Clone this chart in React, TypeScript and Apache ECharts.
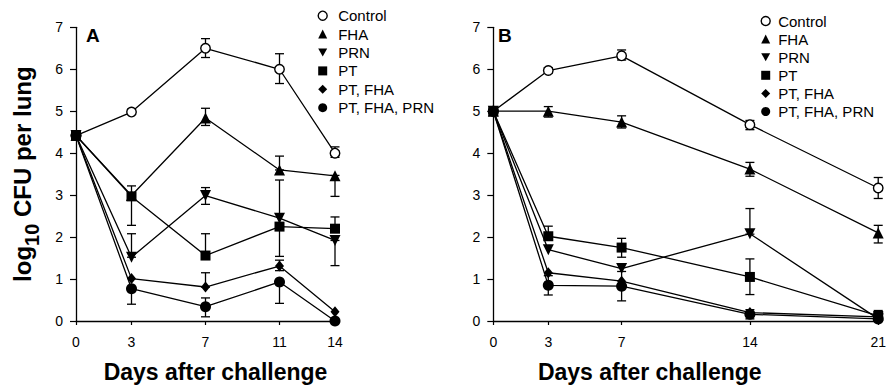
import React, { useEffect, useRef } from "react";
import * as echarts from "echarts";

const FONT = "'Liberation Sans', Arial, Helvetica, sans-serif";

// Categories / ticks
const daysA = [0, 3, 7, 11, 14];
const daysB = [0, 3, 7, 14, 21];
const names = ["Control", "FHA", "PRN", "PT", "PT, FHA", "PT, FHA, PRN"];

// Panel A values (log10 CFU per lung)
const controlA = [4.42, 4.98, 6.5, 6.0, 4.0];
const fhaA = [4.42, 2.99, 4.84, 3.6, 3.46];
const prnA = [4.42, 1.52, 2.99, 2.45, 1.92];
const ptA = [4.42, 2.97, 1.56, 2.25, 2.2];
const ptFhaA = [4.42, 1.01, 0.81, 1.31, 0.22];
const ptFhaPrnA = [4.42, 0.77, 0.34, 0.93, 0.0];

// Panel B values
const controlB = [5.0, 5.97, 6.32, 4.68, 3.17];
const fhaB = [5.0, 5.0, 4.74, 3.62, 2.1];
const prnB = [5.0, 1.7, 1.25, 2.08, 0.05];
const ptB = [5.0, 2.02, 1.75, 1.05, 0.12];
const ptFhaB = [5.0, 1.15, 0.95, 0.2, 0.1];
const ptFhaPrnB = [5.0, 0.85, 0.83, 0.16, 0.05];

// Error bars [day, low, high]
const errA = [
  [3, 4.95, 5.05], [7, 6.28, 6.73], [11, 5.66, 6.37], [14, 3.9, 4.15],
  [3, 2.28, 3.22], [7, 4.66, 5.07], [11, 3.6, 3.93], [14, 2.97, 3.47],
  [3, 1.52, 2.08], [7, 2.78, 3.18], [11, 1.54, 3.36], [14, 1.32, 1.92],
  [7, 1.56, 2.08], [14, 2.2, 2.48],
  [7, 0.81, 1.15], [11, 1.2, 1.45],
  [3, 0.4, 0.77], [7, 0.1, 0.55], [11, 0.42, 0.93],
];
const errB = [
  [3, 5.9, 6.04], [7, 6.22, 6.46], [14, 4.56, 4.78], [21, 2.92, 3.42],
  [3, 4.86, 5.11], [7, 4.6, 4.89], [14, 3.45, 3.78], [21, 1.86, 2.28],
  [14, 2.07, 2.68],
  [3, 2.02, 2.26], [7, 1.52, 1.97], [14, 0.63, 1.48],
  [3, 0.62, 1.08], [7, 0.48, 1.18], [14, 0.05, 0.27], [21, 0, 0.25],
];

const valuesA = [controlA, fhaA, prnA, ptA, ptFhaA, ptFhaPrnA];
const valuesB = [controlB, fhaB, prnB, ptB, ptFhaB, ptFhaPrnB];

const TRI_DOWN = "path://M0,0L10,0L5,9Z";
const symbols = ["circle", "triangle", TRI_DOWN, "rect", "diamond", "circle"];
const sizes: any[] = [9.5, 11, 11, 10, [9, 11], 11];
const fills = ["#fff", "#000", "#000", "#000", "#000", "#000"];
const zs = [2, 2, 2, 4, 3, 3];

function makeLines(vals: number[][], days: number[], idx: number) {
  return vals.map((v, i) => ({
    type: "line",
    name: names[i],
    xAxisIndex: idx,
    yAxisIndex: idx,
    data: days.map((d, j) => [d, v[j]]),
    symbol: symbols[i],
    symbolSize: sizes[i],
    showAllSymbol: true,
    z: zs[i],
    itemStyle: { color: fills[i], borderColor: "#000", borderWidth: i === 0 ? 1.4 : 0 },
    lineStyle: { color: "#000", width: 1.3 },
    emphasis: { disabled: true },
    silent: true,
  }));
}

function errSeries(data: number[][], idx: number) {
  return {
    type: "custom",
    xAxisIndex: idx,
    yAxisIndex: idx,
    data,
    encode: { x: 0, y: [1, 2] },
    z: 1,
    silent: true,
    renderItem: (params: any, api: any) => {
      const x = api.value(0);
      const a = api.coord([x, api.value(1)]);
      const b = api.coord([x, api.value(2)]);
      const w = 4.5;
      const style = { stroke: "#000", lineWidth: 1.3 };
      return {
        type: "group",
        children: [
          { type: "line", shape: { x1: a[0], y1: a[1], x2: b[0], y2: b[1] }, style },
          { type: "line", shape: { x1: a[0] - w, y1: a[1], x2: a[0] + w, y2: a[1] }, style },
          { type: "line", shape: { x1: b[0] - w, y1: b[1], x2: b[0] + w, y2: b[1] }, style },
        ],
      };
    },
  };
}

const legendData = names.map((n, i) => ({
  name: n,
  icon: symbols[i],
  itemStyle: { color: fills[i], borderColor: "#000", borderWidth: i === 0 ? 1.4 : 0 },
}));

function makeLegend(left: number, top: number, gap: number, pad: number) {
  return {
    orient: "vertical",
    left,
    top,
    padding: 0,
    itemWidth: 9,
    itemHeight: 9,
    itemGap: gap,
    selectedMode: false,
    textStyle: { fontSize: 15, fontFamily: FONT, color: "#000", lineHeight: 15, padding: [0, 0, 0, pad] },
    data: legendData,
  };
}

function makeY(idx: number, showName: boolean) {
  return {
    type: "value",
    gridIndex: idx,
    min: 0,
    max: 7,
    interval: 1,
    name: showName ? "{a|log}{b|10}{a| CFU per lung}" : "",
    nameLocation: "middle",
    nameGap: 34,
    nameTextStyle: {
      rich: {
        a: { fontSize: 24, fontWeight: "bold", fontFamily: FONT, color: "#000", lineHeight: 32, verticalAlign: "top" },
        b: { fontSize: 20, fontWeight: "bold", fontFamily: FONT, color: "#000", lineHeight: 32, verticalAlign: "bottom" },
      },
    },
    axisLine: { show: true, lineStyle: { color: "#000", width: 1.3 } },
    axisTick: { show: true, length: 6, lineStyle: { color: "#000", width: 1.2 } },
    axisLabel: { color: "#000", fontSize: 14, fontFamily: FONT, margin: 13 },
    splitLine: { show: false },
  };
}

function makeX(idx: number, max: number, ticks: number[], pad: number[]) {
  return {
    type: "value",
    gridIndex: idx,
    min: 0,
    max,
    name: "Days after challenge",
    nameLocation: "middle",
    nameGap: 39,
    nameTextStyle: { fontSize: 23, fontWeight: "bold", fontFamily: FONT, color: "#000", padding: pad },
    axisLine: { show: true, lineStyle: { color: "#000", width: 1.3 } },
    axisTick: { show: true, length: 4, customValues: ticks, lineStyle: { color: "#000", width: 1.2 } },
    axisLabel: { color: "#000", fontSize: 14, fontFamily: FONT, margin: 14, customValues: ticks },
    splitLine: { show: false },
  };
}

export default function App() {
  const ref = useRef<HTMLDivElement>(null);
  useEffect(() => {
    if (!ref.current) return;
    const chart = echarts.init(ref.current, undefined, { renderer: "svg" });
    chart.setOption({
      animation: false,
      backgroundColor: "#fff",
      grid: [
        { left: 76, top: 27.3, width: 259, height: 295.4 },
        { left: 493.3, top: 27.3, width: 389.4, height: 294.4 },
      ],
      xAxis: [makeX(0, 14, daysA, [0, 0, 0, 20]), makeX(1, 21, daysB, [0, 72, 0, 0])],
      yAxis: [makeY(0, true), makeY(1, false)],
      legend: [makeLegend(317.5, 8.2, 3.4, 6), makeLegend(760.5, 13.5, 3.1, 3)],
      graphic: [
        { type: "text", left: 86, top: 26, style: { text: "A", fontSize: 19, fontWeight: "bold", fontFamily: FONT, fill: "#000" } },
        { type: "text", left: 498, top: 26, style: { text: "B", fontSize: 19, fontWeight: "bold", fontFamily: FONT, fill: "#000" } },
      ],
      series: [
        errSeries(errA, 0),
        errSeries(errB, 1),
        ...makeLines(valuesA, daysA, 0),
        ...makeLines(valuesB, daysB, 1),
      ],
    });
    return () => chart.dispose();
  }, []);
  return <div ref={ref} style={{ width: 889, height: 388, position: "absolute", left: 0, top: 0 }} />;
}
